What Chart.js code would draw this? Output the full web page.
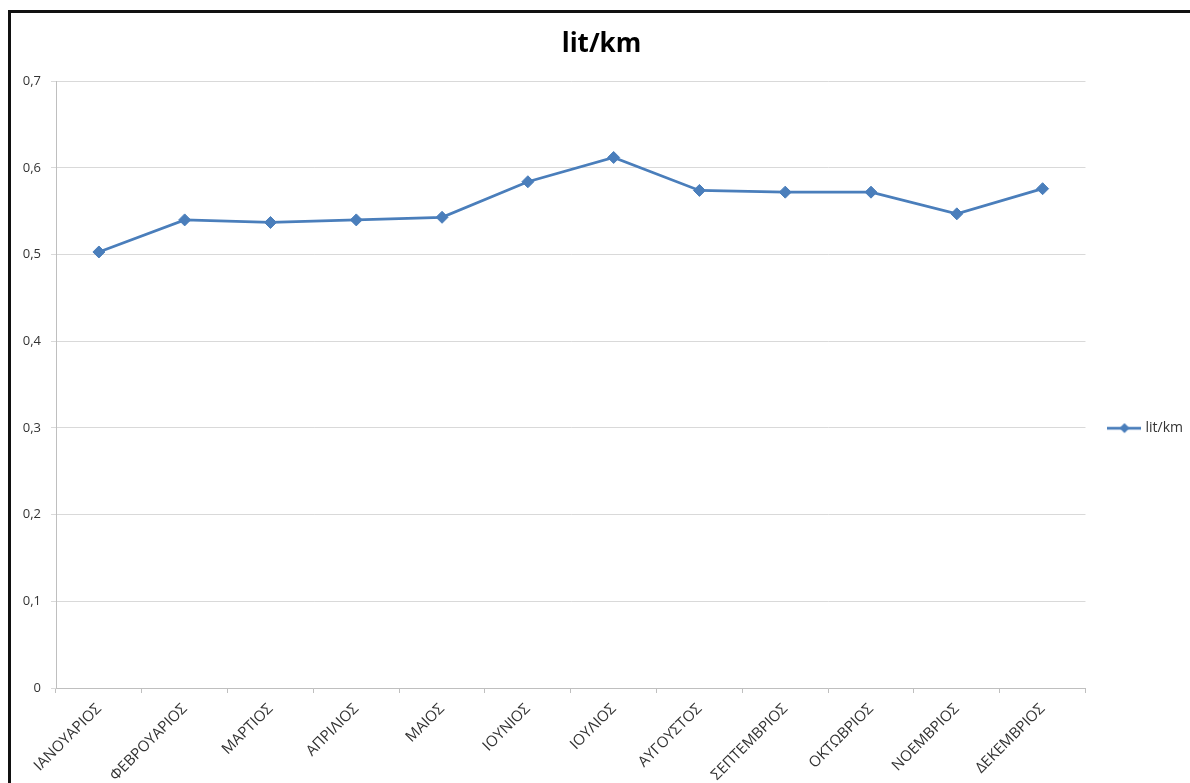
<!DOCTYPE html>
<html>
<head>
<meta charset="utf-8">
<title>lit/km</title>
<script src="https://cdn.jsdelivr.net/npm/chart.js@4.4.0/dist/chart.umd.min.js"></script>
<style>
  html, body { margin: 0; padding: 0; background: #fff; overflow: hidden; }
  .frame {
    position: absolute;
    left: 8px;
    top: 10px;
    width: 1179px;
    height: 770px;
    border-left: 3px solid #111;
    border-top: 3px solid #111;
  }
  canvas { display: block; }
</style>
</head>
<body>
<div class="frame">
  <canvas id="lit-km" width="1179" height="770"></canvas>
</div>
<script>
const months = [
  'ΙΑΝΟΥΑΡΙΟΣ', 'ΦΕΒΡΟΥΑΡΙΟΣ', 'ΜΑΡΤΙΟΣ', 'ΑΠΡΙΛΙΟΣ', 'ΜΑΙΟΣ', 'ΙΟΥΝΙΟΣ',
  'ΙΟΥΛΙΟΣ', 'ΑΥΓΟΥΣΤΟΣ', 'ΣΕΠΤΕΜΒΡΙΟΣ', 'ΟΚΤΩΒΡΙΟΣ', 'ΝΟΕΜΒΡΙΟΣ', 'ΔΕΚΕΜΒΡΙΟΣ',
];
const litPerKm = [0.503, 0.540, 0.537, 0.540, 0.543, 0.584, 0.612, 0.574, 0.572, 0.572, 0.547, 0.576];
const yMin = 0;
const yMax = 0.7;
const yStep = 0.1;

const BLUE = '#4a7ebb';
const TEXT = '#333';
const FONT = "'Open Sans', 'DejaVu Sans', sans-serif";

// legend icon: short line with a diamond on it
function lineMarkerIcon() {
  const c = document.createElement('canvas');
  c.width = 34;
  c.height = 14;
  const ctx = c.getContext('2d');
  ctx.strokeStyle = BLUE;
  ctx.fillStyle = BLUE;
  ctx.lineWidth = 2.75;
  ctx.beginPath();
  ctx.moveTo(0, 7);
  ctx.lineTo(34, 7);
  ctx.stroke();
  ctx.beginPath();
  ctx.moveTo(17 - 5, 7);
  ctx.lineTo(17, 2);
  ctx.lineTo(17 + 5, 7);
  ctx.lineTo(17, 12);
  ctx.closePath();
  ctx.fill();
  return c;
}

// legend sits just right of the plot, centred in the space under the title;
// title nudged a little right of the canvas centre
const boxPlacement = {
  id: 'boxPlacement',
  afterLayout(chart) {
    const { legend, titleBlock, chartArea } = chart;
    if (legend) {
      legend.left = chartArea.right + 15;
      legend.right = chart.width;
      legend.top = chartArea.top;
      legend.bottom = chart.height - 8;
    }
    if (titleBlock) {
      titleBlock.left = 14;
    }
  },
};

const fmt = v => (v === 0 ? '0' : v.toFixed(1).replace('.', ','));

new Chart('lit-km', {
  type: 'line',
  data: {
    labels: months,
    datasets: [
      {
        label: 'lit/km',
        data: litPerKm,
        borderColor: BLUE,
        backgroundColor: BLUE,
        borderWidth: 2.75,
        pointStyle: 'rectRot',
        pointRadius: 6,
        pointBorderWidth: 1,
        tension: 0,
      },
    ],
  },
  plugins: [boxPlacement],
  options: {
    responsive: false,
    devicePixelRatio: 1,
    animation: false,
    layout: { padding: { left: 0, right: 12, top: 0, bottom: 0 } },
    plugins: {
      title: {
        display: true,
        text: 'lit/km',
        color: '#000',
        font: { family: FONT, size: 26, weight: 'bold' },
        padding: { top: 16, bottom: 21 },
      },
      legend: {
        position: 'right',
        align: 'center',
        labels: {
          usePointStyle: true,
          pointStyle: lineMarkerIcon(),
          pointStyleWidth: 28,
          color: TEXT,
          font: { family: FONT, size: 14 },
          padding: 10,
        },
      },
      tooltip: { enabled: false },
    },
    scales: {
      x: {
        offset: true,
        grid: {
          offset: true,
          drawOnChartArea: false,
          tickLength: 5,
          color: '#bfbfbf',
        },
        border: { color: '#bfbfbf' },
        ticks: {
          autoSkip: false,
          minRotation: 45,
          maxRotation: 45,
          color: TEXT,
          font: { family: FONT, size: 15 },
          padding: 7,
        },
        afterFit: scale => { scale.height = 95; },
      },
      y: {
        min: yMin,
        max: yMax,
        grid: { color: '#d9d9d9', tickLength: 5 },
        border: { color: '#bfbfbf' },
        ticks: {
          stepSize: yStep,
          color: TEXT,
          font: { family: FONT, size: 13 },
          padding: 10,
          callback: fmt,
        },
        afterFit: scale => { scale.width = 45; },
      },
    },
  },
});
</script>
</body>
</html>
